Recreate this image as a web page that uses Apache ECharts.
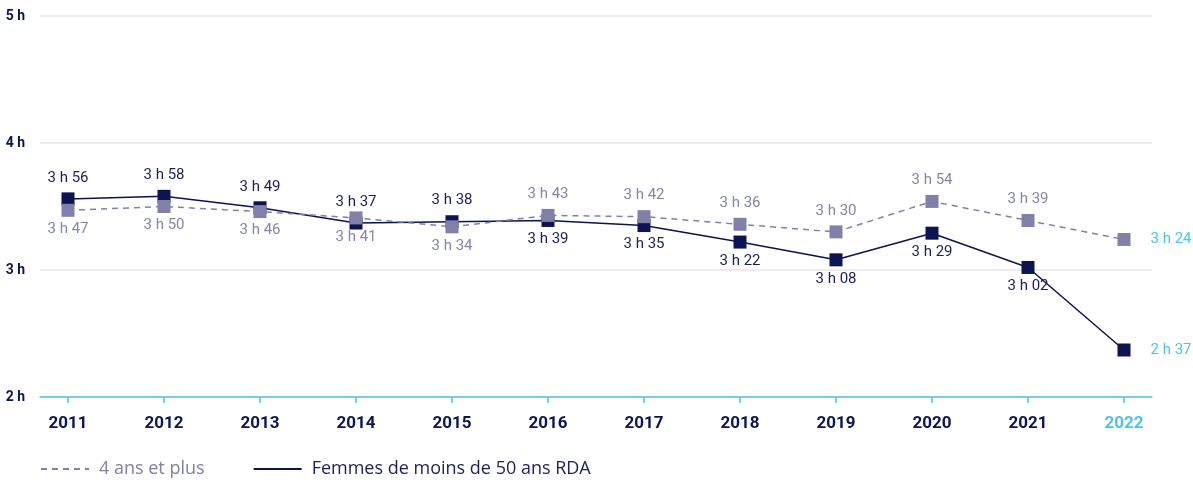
<!DOCTYPE html>
<html>
<head>
<meta charset="utf-8">
<script src="https://cdn.jsdelivr.net/npm/echarts@6/dist/echarts.min.js"></script>
<style>
  html, body { margin: 0; padding: 0; background: #fff; }
  #chart { width: 1193px; height: 483px; }
</style>
</head>
<body>
<div id="chart"></div>
<script>
// valeurs (h.mm, tracées comme nombres décimaux)
const years = ['2011', '2012', '2013', '2014', '2015', '2016', '2017', '2018', '2019', '2020', '2021', '2022']
const tousAges = [3.47, 3.50, 3.46, 3.41, 3.34, 3.43, 3.42, 3.36, 3.30, 3.54, 3.39, 3.24]
const femmesRda = [3.56, 3.58, 3.49, 3.37, 3.38, 3.39, 3.35, 3.22, 3.08, 3.29, 3.02, 2.37]
const yTicks = [2, 3, 4, 5]

const NAVY = '#0c1452'
const GREY = '#8080a8'
const CYAN = '#4cc3ef'
const NARROW = "'Roboto', 'Liberation Sans Narrow', sans-serif"

function fmt(v) {
  const h = Math.floor(v + 1e-9)
  const m = Math.round((v - h) * 100)
  return h + ' h ' + (m < 10 ? '0' + m : m)
}

const chart = echarts.init(document.getElementById('chart'))
const last = years.length - 1

function buildData(values, isGrey) {
  return values.map((v, i) => {
    let pos
    if (i === last) pos = 'right'
    else if (isGrey) pos = i < 5 ? 'bottom' : 'top'
    else pos = i < 5 ? 'top' : 'bottom'
    return {
      value: v,
      label: {
        position: pos,
        distance: pos === 'right' ? 20 : (pos === 'top' ? 7 : 5),
        color: i === last ? CYAN : (isGrey ? '#8585ad' : '#1b2157')
      }
    }
  })
}

const option = {
  backgroundColor: '#ffffff',
  animation: false,
  grid: [
    { left: 40, right: 41, top: 16, bottom: 86 },
    { left: 68, right: 69, top: 16, bottom: 86 }
  ],
  xAxis: [
    {
      gridIndex: 0,
      type: 'category',
      data: years,
      axisLine: { lineStyle: { color: CYAN, width: 1.5 } },
      axisTick: { show: false },
      axisLabel: { show: false }
    },
    {
      gridIndex: 1,
      type: 'category',
      boundaryGap: false,
      data: years,
      axisLine: { show: false },
      axisTick: { show: true, length: 6, lineStyle: { color: CYAN, width: 1.5 } },
      axisLabel: {
        margin: 18,
        fontFamily: NARROW,
        fontWeight: 'bold',
        fontSize: 17,
        color: (val) => (val === years[last] ? CYAN : NAVY)
      }
    }
  ],
  yAxis: [
    {
      gridIndex: 0,
      type: 'value',
      min: yTicks[0],
      max: yTicks[yTicks.length - 1],
      interval: 1,
      axisLine: { show: false },
      axisTick: { show: false },
      splitLine: { lineStyle: { color: '#e6e6e6', width: 1.5 } },
      axisLabel: {
        margin: 15,
        fontFamily: NARROW,
        fontWeight: 'bold',
        fontSize: 14,
        color: NAVY,
        formatter: (v) => v + ' h'
      }
    },
    {
      gridIndex: 1,
      type: 'value',
      min: yTicks[0],
      max: yTicks[yTicks.length - 1],
      interval: 1,
      show: false
    }
  ],
  legend: {
    left: 40,
    bottom: 5,
    padding: 0,
    itemWidth: 48,
    itemHeight: 14,
    itemGap: 48,
    itemStyle: { opacity: 0 },
    textStyle: { fontFamily: "'Open Sans', sans-serif", fontSize: 18, padding: [0, 0, 0, 5] },
    data: [
      { name: '4 ans et plus', textStyle: { color: GREY } },
      { name: 'Femmes de moins de 50 ans RDA', textStyle: { color: '#1b2157' } }
    ]
  },
  series: [
    {
      name: 'Femmes de moins de 50 ans RDA',
      type: 'line',
      xAxisIndex: 1,
      yAxisIndex: 1,
      z: 2,
      symbol: 'rect',
      symbolSize: 13,
      itemStyle: { color: NAVY },
      lineStyle: { color: NAVY, width: 1.5 },
      label: {
        show: true,
        fontFamily: NARROW,
        fontSize: 15,
        formatter: (p) => fmt(p.value)
      },
      data: buildData(femmesRda, false)
    },
    {
      name: '4 ans et plus',
      type: 'line',
      xAxisIndex: 1,
      yAxisIndex: 1,
      z: 3,
      symbol: 'rect',
      symbolSize: 13,
      itemStyle: { color: GREY },
      lineStyle: { color: GREY, width: 1.5, type: [6, 5] },
      label: {
        show: true,
        fontFamily: NARROW,
        fontSize: 15,
        formatter: (p) => fmt(p.value)
      },
      data: buildData(tousAges, true)
    }
  ]
}

chart.setOption(option)
</script>
</body>
</html>
